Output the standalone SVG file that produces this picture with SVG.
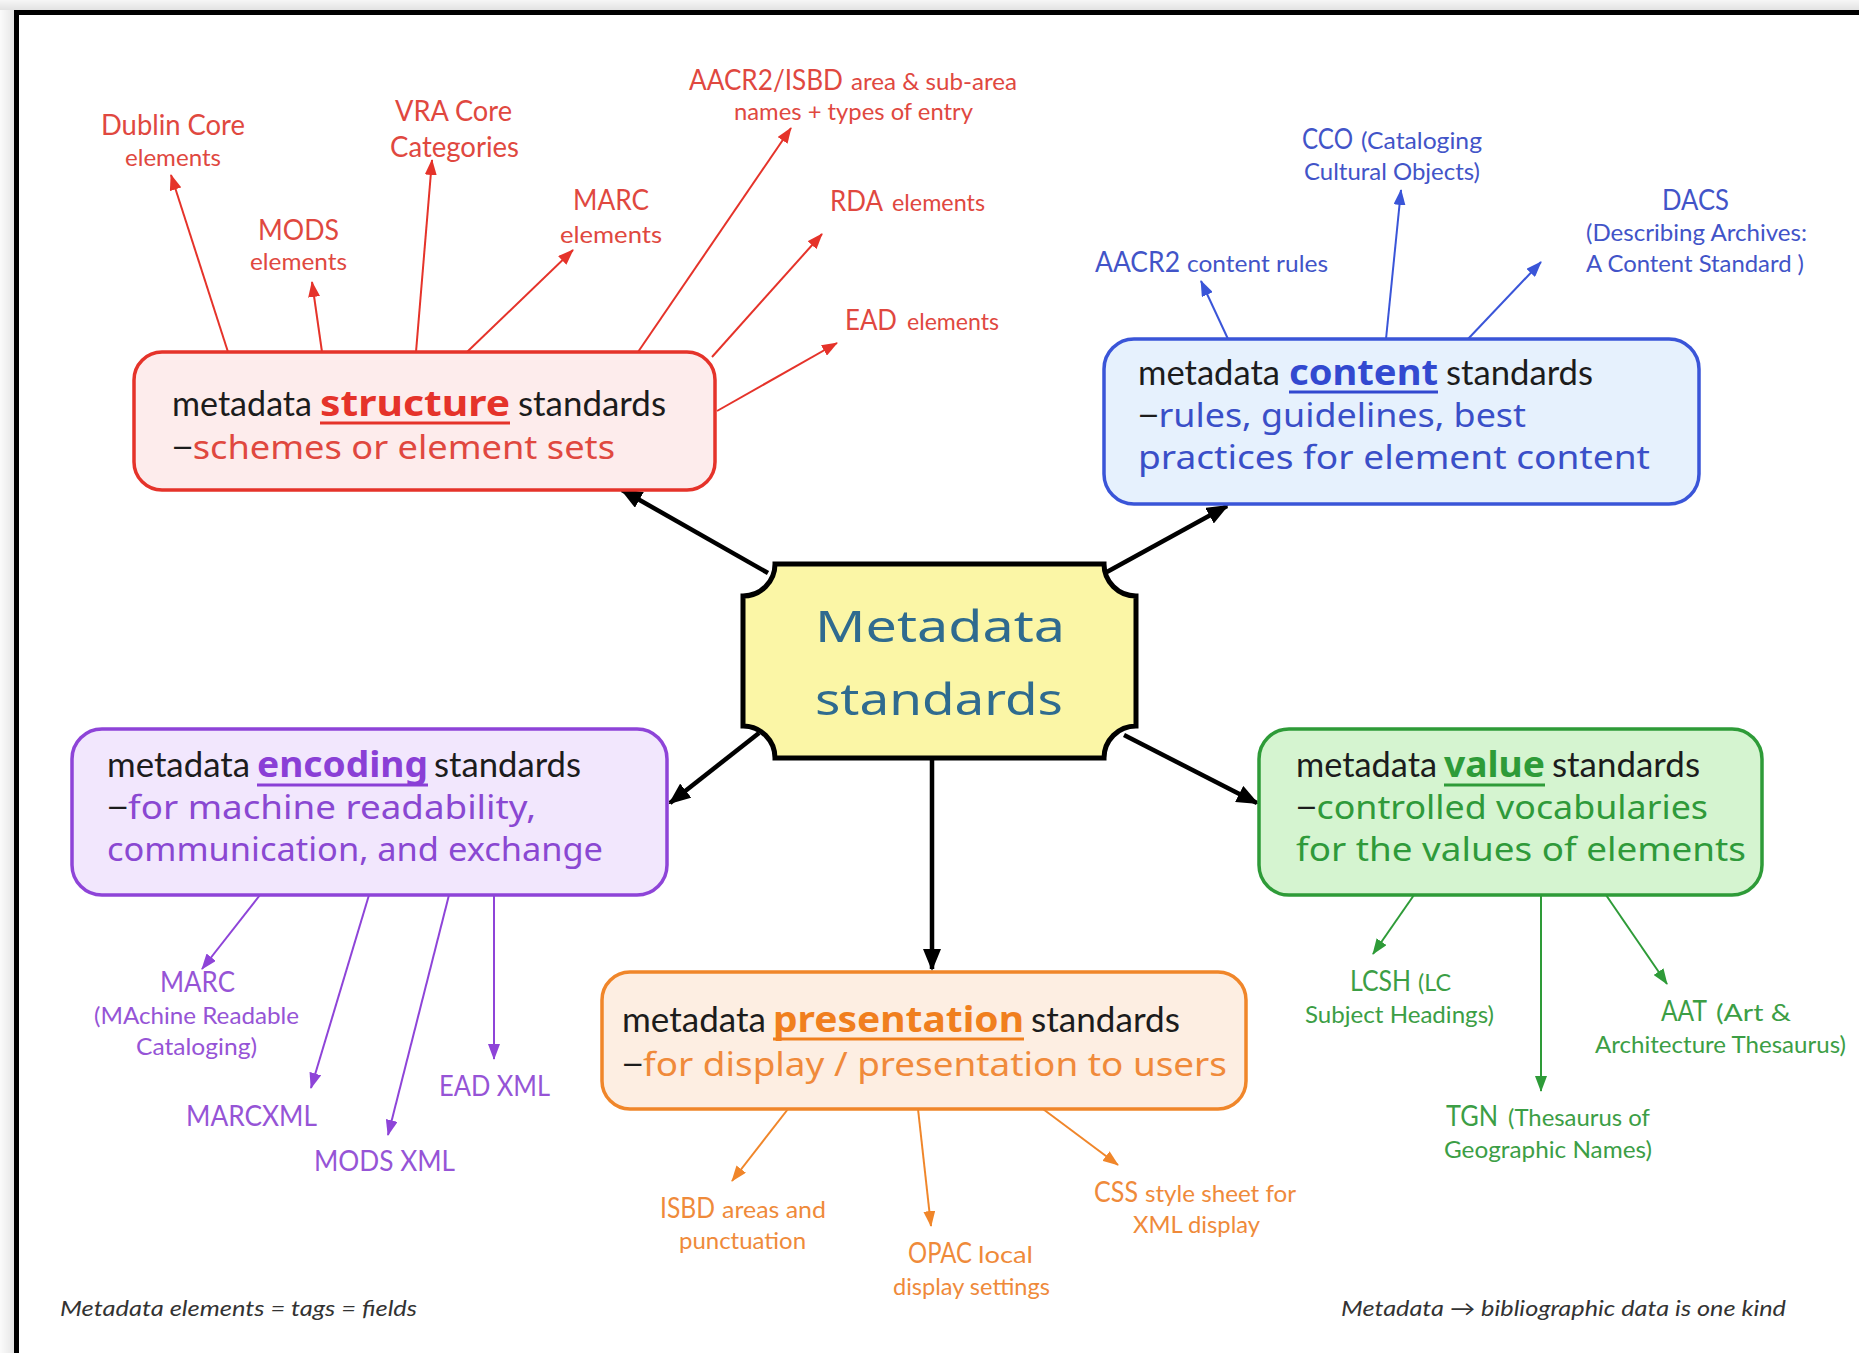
<svg xmlns="http://www.w3.org/2000/svg" width="1859" height="1353" viewBox="0 0 1859 1353">
<defs>
<linearGradient id="gTop" x1="0" y1="0" x2="0" y2="1"><stop offset="0" stop-color="#f6f6f6"/><stop offset="1" stop-color="#e2e2e2"/></linearGradient>
<linearGradient id="gLeft" x1="0" y1="0" x2="1" y2="0"><stop offset="0" stop-color="#fbfbfb"/><stop offset="1" stop-color="#e6e6e6"/></linearGradient>
<marker id="mK" markerUnits="userSpaceOnUse" markerWidth="22" markerHeight="18" refX="20" refY="9" orient="auto"><path d="M0,0 L22,9 L0,18 z" fill="#000"/></marker>
<marker id="mR" markerUnits="userSpaceOnUse" markerWidth="16" markerHeight="12" refX="15" refY="6" orient="auto"><path d="M0,0 L16,6 L0,12 z" fill="#e5332a"/></marker>
<marker id="mB" markerUnits="userSpaceOnUse" markerWidth="16" markerHeight="12" refX="15" refY="6" orient="auto"><path d="M0,0 L16,6 L0,12 z" fill="#3a55d8"/></marker>
<marker id="mP" markerUnits="userSpaceOnUse" markerWidth="16" markerHeight="12" refX="15" refY="6" orient="auto"><path d="M0,0 L16,6 L0,12 z" fill="#8e44d8"/></marker>
<marker id="mG" markerUnits="userSpaceOnUse" markerWidth="16" markerHeight="12" refX="15" refY="6" orient="auto"><path d="M0,0 L16,6 L0,12 z" fill="#2e9b38"/></marker>
<marker id="mO" markerUnits="userSpaceOnUse" markerWidth="16" markerHeight="12" refX="15" refY="6" orient="auto"><path d="M0,0 L16,6 L0,12 z" fill="#f0862a"/></marker>
</defs>
<style>
.hd{font-family:Lato,"Liberation Sans",sans-serif;font-size:35px;fill:#1c1c1c}
.kw{font-family:"Comic Sans MS","Noto Sans",sans-serif;font-weight:bold;font-size:36px}
.cm{font-family:"Comic Sans MS","Noto Sans",sans-serif;font-size:32px}
.lb{font-family:Lato,"Liberation Sans",sans-serif;font-size:28px}
.ls{font-family:Lato,"Liberation Sans",sans-serif;font-size:23px}
.ft{font-family:Lato,"Liberation Sans",sans-serif;font-style:italic;font-size:21px;fill:#333}
.ctr{font-family:"Noto Sans","DejaVu Sans",sans-serif;font-size:44px;fill:#2f6b8f}
.box{stroke-width:3.5}
.cK{stroke:#000;stroke-width:4.5;fill:none;marker-end:url(#mK)}
.cR{stroke:#e5332a;stroke-width:2;fill:none;marker-end:url(#mR)}
.cB{stroke:#3a55d8;stroke-width:2;fill:none;marker-end:url(#mB)}
.cP{stroke:#8e44d8;stroke-width:2;fill:none;marker-end:url(#mP)}
.cG{stroke:#2e9b38;stroke-width:2;fill:none;marker-end:url(#mG)}
.cO{stroke:#f0862a;stroke-width:2;fill:none;marker-end:url(#mO)}
.red{fill:#e0483f}.blue{fill:#4254c8}.purple{fill:#9654d6}.green{fill:#3c9e45}.orange{fill:#ef8a3a}
</style>
<rect x="0" y="0" width="1859" height="1353" fill="#ffffff"/>
<rect x="0" y="0" width="1859" height="10" fill="url(#gTop)"/>
<rect x="0" y="10" width="14" height="1343" fill="url(#gLeft)"/>
<path d="M16.5,1353 V12.5 H1859" fill="none" stroke="#000" stroke-width="5"/>

<g id="connectors">
<path class="cK" d="M768,573 L622,490"/>
<path class="cK" d="M1105,573 L1227,506"/>
<path class="cK" d="M759,733 L670,803"/>
<path class="cK" d="M1124,735 L1257,803"/>
<path class="cK" d="M932,759 L932,969"/>
<path class="cR" d="M228,352 L171,175"/>
<path class="cR" d="M322,352 L312,282"/>
<path class="cR" d="M416,352 L432,160"/>
<path class="cR" d="M467,352 L573,250"/>
<path class="cR" d="M638,352 L791,128"/>
<path class="cR" d="M712,357 L822,234"/>
<path class="cR" d="M717,411 L837,343"/>
<path class="cB" d="M1228,339 L1201,281"/>
<path class="cB" d="M1386,339 L1401,190"/>
<path class="cB" d="M1468,339 L1541,262"/>
<path class="cP" d="M260,895 L202,969"/>
<path class="cP" d="M369,895 L311,1088"/>
<path class="cP" d="M449,895 L388,1135"/>
<path class="cP" d="M494,895 L494,1059"/>
<path class="cG" d="M1414,895 L1373,954"/>
<path class="cG" d="M1541,895 L1541,1091"/>
<path class="cG" d="M1606,895 L1667,984"/>
<path class="cO" d="M788,1109 L732,1181"/>
<path class="cO" d="M918,1109 L931,1226"/>
<path class="cO" d="M1043,1109 L1118,1165"/>
</g>

<g id="center">
<path d="M775,564 H1104 A32,32 0 0 0 1136,596 V726 A32,32 0 0 0 1104,758 H775 A32,32 0 0 0 743,726 V596 A32,32 0 0 0 775,564 Z" fill="#fbf6a6" stroke="#000" stroke-width="5"/>
<text class="ctr" x="815" y="642" textLength="250" lengthAdjust="spacingAndGlyphs">Metadata</text>
<text class="ctr" x="815" y="715" textLength="248" lengthAdjust="spacingAndGlyphs">standards</text>
</g>

<g id="structure">
<rect class="box" x="134" y="352" width="581" height="138" rx="28" fill="#fdecec" stroke="#e5332a"/>
<text class="hd" x="172" y="416" textLength="140" lengthAdjust="spacingAndGlyphs">metadata</text>
<text class="kw" x="320" y="416" textLength="190" lengthAdjust="spacingAndGlyphs" fill="#e5332a">structure</text>
<line x1="320" y1="423" x2="510" y2="423" stroke="#e5332a" stroke-width="3"/>
<text class="hd" x="518" y="416" textLength="148" lengthAdjust="spacingAndGlyphs">standards</text>
<text class="cm" x="172" y="459" textLength="443" lengthAdjust="spacingAndGlyphs" fill="#e0483f"><tspan fill="#1c1c1c">−</tspan>schemes or element sets</text>
</g>

<g id="content">
<rect class="box" x="1104" y="339" width="595" height="165" rx="30" fill="#e6f1fd" stroke="#3a55d8"/>
<text class="hd" x="1138" y="385" textLength="142" lengthAdjust="spacingAndGlyphs">metadata</text>
<text class="kw" x="1289" y="385" textLength="149" lengthAdjust="spacingAndGlyphs" fill="#3249d0">content</text>
<line x1="1289" y1="392" x2="1438" y2="392" stroke="#3249d0" stroke-width="3"/>
<text class="hd" x="1446" y="385" textLength="147" lengthAdjust="spacingAndGlyphs">standards</text>
<text class="cm" x="1138" y="427" textLength="388" lengthAdjust="spacingAndGlyphs" fill="#3a4fc8"><tspan fill="#1c1c1c">−</tspan>rules, guidelines, best</text>
<text class="cm" x="1138" y="469" textLength="512" lengthAdjust="spacingAndGlyphs" fill="#3a4fc8">practices for element content</text>
</g>

<g id="encoding">
<rect class="box" x="72" y="729" width="595" height="166" rx="30" fill="#f2e7fd" stroke="#8e44d8"/>
<text class="hd" x="107" y="777" textLength="143" lengthAdjust="spacingAndGlyphs">metadata</text>
<text class="kw" x="257" y="777" textLength="171" lengthAdjust="spacingAndGlyphs" fill="#8a3fd6">encoding</text>
<line x1="257" y1="785" x2="428" y2="785" stroke="#8a3fd6" stroke-width="3"/>
<text class="hd" x="434" y="777" textLength="147" lengthAdjust="spacingAndGlyphs">standards</text>
<text class="cm" x="107" y="819" textLength="429" lengthAdjust="spacingAndGlyphs" fill="#8a48d2"><tspan fill="#1c1c1c">−</tspan>for machine readability,</text>
<text class="cm" x="107" y="861" textLength="496" lengthAdjust="spacingAndGlyphs" fill="#8a48d2">communication, and exchange</text>
</g>

<g id="value">
<rect class="box" x="1259" y="729" width="503" height="166" rx="30" fill="#d5f4d0" stroke="#2e9b38"/>
<text class="hd" x="1296" y="777" textLength="141" lengthAdjust="spacingAndGlyphs">metadata</text>
<text class="kw" x="1444" y="777" textLength="101" lengthAdjust="spacingAndGlyphs" fill="#2e9b38">value</text>
<line x1="1444" y1="785" x2="1545" y2="785" stroke="#2e9b38" stroke-width="3"/>
<text class="hd" x="1552" y="777" textLength="148" lengthAdjust="spacingAndGlyphs">standards</text>
<text class="cm" x="1296" y="819" textLength="412" lengthAdjust="spacingAndGlyphs" fill="#2f9a3a"><tspan fill="#1c1c1c">−</tspan>controlled vocabularies</text>
<text class="cm" x="1296" y="861" textLength="450" lengthAdjust="spacingAndGlyphs" fill="#2f9a3a">for the values of elements</text>
</g>

<g id="presentation">
<rect class="box" x="602" y="972" width="644" height="137" rx="28" fill="#fdeee2" stroke="#f0862a"/>
<text class="hd" x="622" y="1032" textLength="144" lengthAdjust="spacingAndGlyphs">metadata</text>
<text class="kw" x="773" y="1032" textLength="251" lengthAdjust="spacingAndGlyphs" fill="#f07f1e">presentation</text>
<line x1="773" y1="1039" x2="1024" y2="1039" stroke="#f07f1e" stroke-width="3"/>
<text class="hd" x="1031" y="1032" textLength="149" lengthAdjust="spacingAndGlyphs">standards</text>
<text class="cm" x="622" y="1076" textLength="605" lengthAdjust="spacingAndGlyphs" fill="#f08a3a"><tspan fill="#1c1c1c">−</tspan>for display / presentation to users</text>
</g>

<g id="dublin-core" class="red">
<text class="lb" x="101" y="135" textLength="144" lengthAdjust="spacingAndGlyphs">Dublin Core</text>
<text class="ls" x="125" y="166" textLength="96" lengthAdjust="spacingAndGlyphs">elements</text>
</g>
<g id="mods" class="red">
<text class="lb" x="258" y="240" textLength="81" lengthAdjust="spacingAndGlyphs">MODS</text>
<text class="ls" x="250" y="270" textLength="97" lengthAdjust="spacingAndGlyphs">elements</text>
</g>
<g id="vra-core" class="red">
<text class="lb" x="395" y="121" textLength="117" lengthAdjust="spacingAndGlyphs">VRA Core</text>
<text class="lb" x="390" y="157" textLength="129" lengthAdjust="spacingAndGlyphs">Categories</text>
</g>
<g id="marc-elements" class="red">
<text class="lb" x="573" y="210" textLength="76" lengthAdjust="spacingAndGlyphs">MARC</text>
<text class="ls" x="560" y="243" textLength="102" lengthAdjust="spacingAndGlyphs">elements</text>
</g>
<g id="aacr2-isbd" class="red">
<text class="lb" x="689" y="90" textLength="154" lengthAdjust="spacingAndGlyphs">AACR2/ISBD</text>
<text class="ls" x="851" y="90" textLength="166" lengthAdjust="spacingAndGlyphs">area &amp; sub-area</text>
<text class="ls" x="734" y="120" textLength="239" lengthAdjust="spacingAndGlyphs">names + types of entry</text>
</g>
<g id="rda" class="red">
<text class="lb" x="830" y="211" textLength="53" lengthAdjust="spacingAndGlyphs">RDA</text>
<text class="ls" x="892" y="211" textLength="93" lengthAdjust="spacingAndGlyphs">elements</text>
</g>
<g id="ead" class="red">
<text class="lb" x="845" y="330" textLength="52" lengthAdjust="spacingAndGlyphs">EAD</text>
<text class="ls" x="907" y="330" textLength="92" lengthAdjust="spacingAndGlyphs">elements</text>
</g>

<g id="aacr2-content" class="blue">
<text class="lb" x="1095" y="272" textLength="85" lengthAdjust="spacingAndGlyphs">AACR2</text>
<text class="ls" x="1187" y="272" textLength="141" lengthAdjust="spacingAndGlyphs">content rules</text>
</g>
<g id="cco" class="blue">
<text class="lb" x="1302" y="149" textLength="51" lengthAdjust="spacingAndGlyphs">CCO</text>
<text class="ls" x="1361" y="149" textLength="121" lengthAdjust="spacingAndGlyphs">(Cataloging</text>
<text class="ls" x="1304" y="180" textLength="176" lengthAdjust="spacingAndGlyphs">Cultural Objects)</text>
</g>
<g id="dacs" class="blue">
<text class="lb" x="1662" y="210" textLength="67" lengthAdjust="spacingAndGlyphs">DACS</text>
<text class="ls" x="1586" y="241" textLength="221" lengthAdjust="spacingAndGlyphs">(Describing Archives:</text>
<text class="ls" x="1586" y="272" textLength="218" lengthAdjust="spacingAndGlyphs">A Content Standard )</text>
</g>

<g id="marc" class="purple">
<text class="lb" x="160" y="992" textLength="75" lengthAdjust="spacingAndGlyphs">MARC</text>
<text class="ls" x="94" y="1024" textLength="205" lengthAdjust="spacingAndGlyphs">(MAchine Readable</text>
<text class="ls" x="136" y="1055" textLength="121" lengthAdjust="spacingAndGlyphs">Cataloging)</text>
</g>
<g id="marcxml" class="purple">
<text class="lb" x="186" y="1126" textLength="131" lengthAdjust="spacingAndGlyphs">MARCXML</text>
</g>
<g id="mods-xml" class="purple">
<text class="lb" x="314" y="1171" textLength="141" lengthAdjust="spacingAndGlyphs">MODS XML</text>
</g>
<g id="ead-xml" class="purple">
<text class="lb" x="439" y="1096" textLength="111" lengthAdjust="spacingAndGlyphs">EAD XML</text>
</g>

<g id="lcsh" class="green">
<text class="lb" x="1350" y="991" textLength="61" lengthAdjust="spacingAndGlyphs">LCSH</text>
<text class="ls" x="1418" y="991" textLength="33" lengthAdjust="spacingAndGlyphs">(LC</text>
<text class="ls" x="1305" y="1023" textLength="189" lengthAdjust="spacingAndGlyphs">Subject Headings)</text>
</g>
<g id="aat" class="green">
<text class="lb" x="1661" y="1021" textLength="46" lengthAdjust="spacingAndGlyphs">AAT</text>
<text class="ls" x="1716" y="1021" textLength="75" lengthAdjust="spacingAndGlyphs">(Art &amp;</text>
<text class="ls" x="1595" y="1053" textLength="251" lengthAdjust="spacingAndGlyphs">Architecture Thesaurus)</text>
</g>
<g id="tgn" class="green">
<text class="lb" x="1446" y="1126" textLength="52" lengthAdjust="spacingAndGlyphs">TGN</text>
<text class="ls" x="1508" y="1126" textLength="142" lengthAdjust="spacingAndGlyphs">(Thesaurus of</text>
<text class="ls" x="1444" y="1158" textLength="208" lengthAdjust="spacingAndGlyphs">Geographic Names)</text>
</g>

<g id="isbd" class="orange">
<text class="lb" x="660" y="1218" textLength="55" lengthAdjust="spacingAndGlyphs">ISBD</text>
<text class="ls" x="722" y="1218" textLength="104" lengthAdjust="spacingAndGlyphs">areas and</text>
<text class="ls" x="679" y="1249" textLength="127" lengthAdjust="spacingAndGlyphs">punctuation</text>
</g>
<g id="opac" class="orange">
<text class="lb" x="908" y="1263" textLength="64" lengthAdjust="spacingAndGlyphs">OPAC</text>
<text class="ls" x="978" y="1263" textLength="55" lengthAdjust="spacingAndGlyphs">local</text>
<text class="ls" x="893" y="1295" textLength="157" lengthAdjust="spacingAndGlyphs">display settings</text>
</g>
<g id="css" class="orange">
<text class="lb" x="1094" y="1202" textLength="44" lengthAdjust="spacingAndGlyphs">CSS</text>
<text class="ls" x="1145" y="1202" textLength="151" lengthAdjust="spacingAndGlyphs">style sheet for</text>
<text class="ls" x="1133" y="1233" textLength="127" lengthAdjust="spacingAndGlyphs">XML display</text>
</g>

<g id="notes">
<text class="ft" x="60" y="1316" textLength="357" lengthAdjust="spacingAndGlyphs">Metadata elements = tags = fields</text>
<text class="ft" x="1341" y="1316" textLength="445" lengthAdjust="spacingAndGlyphs">Metadata → bibliographic data is one kind</text>
</g>
</svg>
